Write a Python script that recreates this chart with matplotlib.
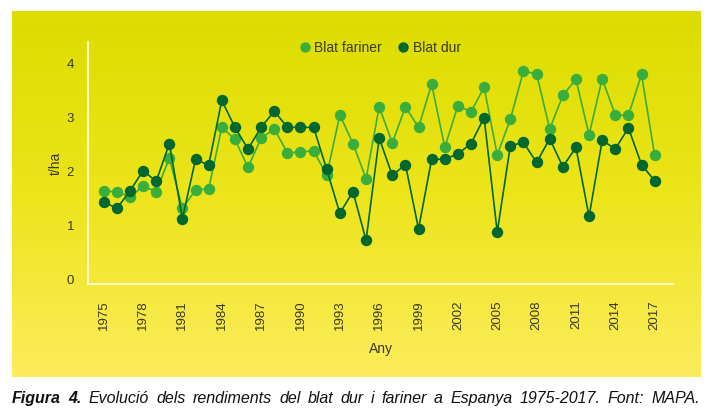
import numpy as np
import matplotlib
matplotlib.use('Agg')
import matplotlib.pyplot as plt
from matplotlib.colors import LinearSegmentedColormap

plt.rcParams['font.family'] = ['Liberation Sans', 'DejaVu Sans']

years = list(range(1975, 2018))
fariner = [1.63, 1.62, 1.52, 1.72, 1.62, 2.24, 1.31, 1.65, 1.67, 2.81,
           2.59, 2.07, 2.61, 2.78, 2.34, 2.35, 2.38, 1.92, 3.04, 2.51,
           1.86, 3.19, 2.52, 3.19, 2.81, 3.61, 2.44, 3.21, 3.10, 3.55,
           2.30, 2.96, 3.85, 3.80, 2.78, 3.40, 3.70, 2.67, 3.71, 3.04,
           3.03, 3.79, 2.29]
dur = [1.43, 1.31, 1.63, 2.01, 1.81, 2.51, 1.12, 2.22, 2.11, 3.31,
       2.81, 2.41, 2.81, 3.11, 2.81, 2.81, 2.81, 2.03, 1.22, 1.62,
       0.72, 2.61, 1.92, 2.12, 0.93, 2.22, 2.22, 2.32, 2.51, 2.99,
       0.87, 2.47, 2.53, 2.16, 2.60, 2.08, 2.44, 1.16, 2.57, 2.41,
       2.80, 2.12, 1.82]
tick_years = list(range(1975, 2018, 3))
y_ticks = [0, 1, 2, 3, 4]
caption_bold = 'Figura 4.'
caption_rest = 'Evolució dels rendiments del blat dur i fariner a Espanya 1975-2017. Font: MAPA.'

text_col = '#3b3a20'
col_fariner = '#3aae3c'
col_dur = '#00672e'

fig = plt.figure(figsize=(7.1, 4.18), dpi=100)

# yellow gradient panel
bg = fig.add_axes([12 / 710, 1 - 377 / 418, 689 / 710, 366 / 418])
cmap = LinearSegmentedColormap.from_list('panel', ['#dcdc00', '#ece51a', '#fcec5c'])
grad = np.linspace(0, 1, 256).reshape(-1, 1)
bg.imshow(grad, aspect='auto', cmap=cmap, extent=(0, 1, 0, 1), origin='upper')
bg.set_axis_off()

ax = fig.add_axes([88 / 710, 1 - 284 / 418, 585 / 710, 242 / 418])
ax.set_facecolor('none')

ax.plot(years, fariner, color=col_fariner, lw=1.2, marker='o', ms=7.2,
        label='Blat fariner', zorder=3)
ax.plot(years, dur, color=col_dur, lw=1.2, marker='o', ms=7.2,
        label='Blat dur', zorder=4)

ax.set_xlim(1973.8, 2018.4)
ax.set_ylim(-0.09, 4.39)
ax.set_xticks(tick_years)
ax.set_xticklabels([str(y) for y in tick_years], rotation=90)
ax.set_yticks(y_ticks)
ax.tick_params(length=0, labelsize=9.5, labelcolor=text_col)
ax.tick_params(axis='x', pad=12)
ax.tick_params(axis='y', pad=10)

for side in ['top', 'right']:
    ax.spines[side].set_visible(False)
for side in ['left', 'bottom']:
    ax.spines[side].set_color('#fffbc8')
    ax.spines[side].set_linewidth(1.5)

ax.set_xlabel('Any', fontsize=10, color=text_col, labelpad=8)
ax.set_ylabel('t/ha', fontsize=10, color=text_col, labelpad=3)

leg = ax.legend(loc='upper center', bbox_to_anchor=(0.5, 1.055), ncol=2,
                frameon=False, fontsize=10, handlelength=0.6,
                handletextpad=0.4, columnspacing=1.2, markerscale=0.9)
for t in leg.get_texts():
    t.set_color(text_col)
for h in leg.legend_handles:
    h.set_linestyle('none')

# justified caption, word by word
words = [(w, 'bold') for w in caption_bold.split()] + \
        [(w, 'normal') for w in caption_rest.split()]
x0, x1 = 12 / 710, 700 / 710
yb = 1 - 403 / 418
txts = [fig.text(0, yb, w, fontsize=11.5, fontweight=wt, style='italic',
                 va='baseline', ha='left', color='#111111') for w, wt in words]
fig.canvas.draw()
renderer = fig.canvas.get_renderer()
widths = [t.get_window_extent(renderer).width / fig.bbox.width for t in txts]
gap = (x1 - x0 - sum(widths)) / (len(txts) - 1)
x = x0
for t, w in zip(txts, widths):
    t.set_x(x)
    x += w + gap

fig.savefig('out.png', dpi=100)
